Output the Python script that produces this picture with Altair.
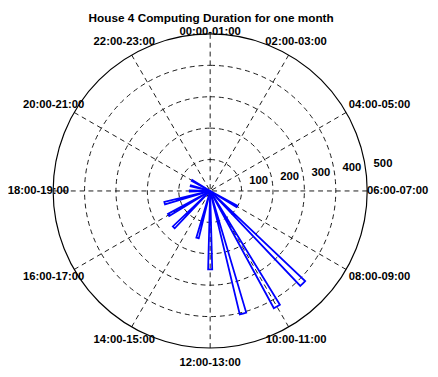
import math
import altair as alt
import pandas as pd

# ---- data ----
hours = list(range(24))
durations = [0, 0, 0, 0, 0, 0, 0, 0, 98, 417, 425, 404,
             250, 155, 0, 164, 153, 150, 65, 64, 67, 0, 0, 0]

label_hours = [0, 2, 4, 6, 8, 10, 12, 14, 16, 18, 20, 22]
label_texts = ["00:00-01:00", "02:00-03:00", "04:00-05:00", "06:00-07:00",
               "08:00-09:00", "10:00-11:00", "12:00-13:00", "14:00-15:00",
               "16:00-17:00", "18:00-19:00", "20:00-21:00", "22:00-23:00"]

ring_ticks = [100, 200, 300, 400, 500]
spoke_angles = [0, 30, 60, 90, 120, 150]
title_text = ["House 4 Computing Duration for one month"]

bars_df = pd.DataFrame({"hour": hours, "duration": durations})
labels_df = pd.DataFrame({"hour": label_hours, "label": label_texts})
rings_df = pd.DataFrame({"tick": ring_ticks})
spokes_df = pd.DataFrame({"angle": spoke_angles})
title_df = pd.DataFrame({"t": title_text})

FONT = "Liberation Sans"
W, H = 412, 342
RPX = 160
theta_scale = alt.Scale(domain=[0, 24], range=[0, 2 * math.pi])
r_scale = alt.Scale(type="linear", domain=[0, 500], range=[0, RPX], zero=True)
x_scale = alt.Scale(domain=[-500, 500], range=[W / 2 - RPX, W / 2 + RPX])
y_scale = alt.Scale(domain=[-500, 500], range=[H / 2 + RPX, H / 2 - RPX])

spokes = alt.Chart(spokes_df).transform_calculate(
    x1="500*sin(datum.angle*PI/180)",
    y1="500*cos(datum.angle*PI/180)",
).transform_calculate(
    x2="-datum.x1", y2="-datum.y1"
).mark_rule(color="black", strokeWidth=0.9, strokeDash=[5, 4]).encode(
    x=alt.X("x1:Q", scale=x_scale, axis=None),
    y=alt.Y("y1:Q", scale=y_scale, axis=None),
    x2="x2:Q",
    y2="y2:Q",
)

rings = alt.Chart(rings_df).transform_filter("datum.tick < 500").mark_arc(
    filled=False, stroke="black", strokeWidth=0.9, strokeDash=[5, 4]
).encode(
    theta=alt.value(0),
    theta2=alt.value(2 * math.pi),
    radius=alt.Radius("tick:Q", scale=r_scale, stack=None),
)

outer = alt.Chart(rings_df).transform_filter("datum.tick == 500").mark_arc(
    filled=False, stroke="black", strokeWidth=1.2
).encode(
    theta=alt.value(0),
    theta2=alt.value(2 * math.pi),
    radius=alt.Radius("tick:Q", scale=r_scale, stack=None),
)

bars = alt.Chart(bars_df).transform_filter("datum.duration > 0").transform_calculate(
    t1="datum.hour - 0.1", t2="datum.hour + 0.1"
).mark_arc(filled=False, stroke="#0000ff", strokeWidth=1.8).encode(
    theta=alt.Theta("t1:Q", scale=theta_scale, stack=None),
    theta2="t2:Q",
    radius=alt.Radius("duration:Q", scale=r_scale, stack=None),
)


def hour_labels(filt, **kw):
    return alt.Chart(labels_df).transform_filter(filt).mark_text(
        font=FONT, fontSize=11.5, fontWeight="bold", color="black",
        baseline="middle", align="center", radius=175, **kw
    ).encode(
        theta=alt.Theta("hour:Q", scale=theta_scale, stack=None),
        text="label:N",
    )


lab_main = hour_labels("datum.hour==2 || datum.hour==10 || datum.hour==12 || "
                       "datum.hour==14 || datum.hour==18 || datum.hour==22")
lab_top = hour_labels("datum.hour==0", dy=13)
lab_right = hour_labels("datum.hour==4 || datum.hour==8", dx=21)
lab_six = hour_labels("datum.hour==6", dx=16)
lab_left = hour_labels("datum.hour==16 || datum.hour==20", dx=-8)

tick_labels = alt.Chart(rings_df).transform_calculate(
    rr="datum.tick + 5"
).mark_text(
    font=FONT, fontSize=11.5, fontWeight="bold", color="black",
    align="left", baseline="bottom", dx=6.5, theta=82 * math.pi / 180
).encode(
    radius=alt.Radius("rr:Q", scale=r_scale, stack=None),
    text=alt.Text("tick:Q", format="d"),
)

title = alt.Chart(title_df).mark_text(
    font=FONT, fontSize=12, fontWeight="bold", color="black",
    align="center", baseline="alphabetic"
).encode(
    x=alt.value(W / 2 + 1),
    y=alt.value(-0.7),
    text="t:N",
)

chart = alt.layer(
    spokes, rings, outer, bars, lab_main, lab_top, lab_right, lab_six, lab_left,
    tick_labels, title
).properties(
    width=W,
    height=H,
    autosize=alt.AutoSizeParams(type="none"),
    padding={"left": 0, "top": 12, "right": 18, "bottom": 8},
    background="white",
).configure_view(stroke=None)

chart.save("out.html", embed_options={"renderer": "svg", "actions": False})
